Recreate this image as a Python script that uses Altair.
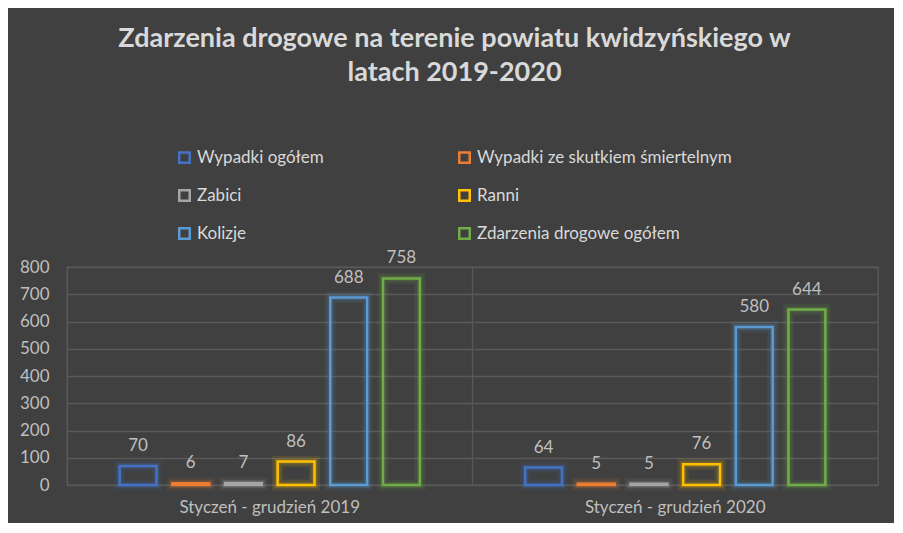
import altair as alt
import pandas as pd

categories = ["Styczeń - grudzień 2019", "Styczeń - grudzień 2020"]
series = ["Wypadki ogółem", "Wypadki ze skutkiem śmiertelnym", "Zabici",
          "Ranni", "Kolizje", "Zdarzenia drogowe ogółem"]
colors = ["#4472C4", "#ED7D31", "#A5A5A5", "#FFC000", "#5B9BD5", "#70AD47"]
values_2019 = [70, 6, 7, 86, 688, 758]
values_2020 = [64, 5, 5, 76, 580, 644]

rows = []
for cat, vals in zip(categories, [values_2019, values_2020]):
    for s, v in zip(series, vals):
        rows.append({"okres": cat, "seria": s, "wartosc": v})
df = pd.DataFrame(rows)

FONT = "Lato"
BG = "#404040"

x = alt.X("okres:N", sort=categories,
          scale=alt.Scale(paddingInner=0, paddingOuter=0),
          axis=alt.Axis(title=None, labelAngle=0, labelFontSize=17, labelColor="#BFBFBF",
                        labelFont=FONT, labelPadding=14, ticks=False, domain=False,
                        labelLimit=400,
                        grid=True, gridColor="#595959", gridWidth=1.3, bandPosition=0,
                        labelBaseline="top", minExtent=30, maxExtent=30))
xo = alt.XOffset("seria:N", sort=series,
                 scale=alt.Scale(paddingInner=0.3, paddingOuter=1))
y = alt.Y("wartosc:Q", scale=alt.Scale(domain=[0, 800], nice=False),
          axis=alt.Axis(title=None, values=list(range(0, 801, 100)), labelFontSize=17,
                        labelColor="#BFBFBF", labelFont=FONT, labelPadding=18,
                        ticks=False, domain=False, gridColor="#595959", gridWidth=1.3,
                        minExtent=50, maxExtent=50))
color = alt.Color("seria:N", sort=series,
                  scale=alt.Scale(domain=series, range=colors),
                  legend=alt.Legend(title=None, orient="none", legendX=109, legendY=-118,
                                    direction="horizontal",
                                    columns=2, columnPadding=130, rowPadding=17,
                                    symbolType="square", symbolSize=110,
                                    symbolFillColor="transparent", symbolStrokeWidth=2.5,
                                    symbolOpacity=1,
                                    labelFontSize=17, labelColor="#D9D9D9", labelFont=FONT,
                                    labelLimit=400, labelOffset=4, padding=0))

base = alt.Chart(df).encode(x=x, xOffset=xo, y=y, color=color)

glow1 = base.mark_bar(filled=False, strokeWidth=11, strokeOpacity=0.10)
glow2 = base.mark_bar(filled=False, strokeWidth=6, strokeOpacity=0.18)
bars = base.mark_bar(filled=False, strokeWidth=2.5)
labels = base.mark_text(baseline="middle", dy=-20, fontSize=17, color="#BFBFBF",
                        font=FONT).encode(text="wartosc:Q", color=alt.value("#BFBFBF"))

chart = alt.layer(glow1, glow2, bars, labels).properties(
    width=811, height=218,
    background=BG,
    padding={"left": 9, "right": 16, "top": 17, "bottom": 8},
    title=alt.TitleParams(
        text=["Zdarzenia drogowe na terenie powiatu kwidzyńskiego w", "latach 2019-2020"],
        fontSize=27, font=FONT, fontWeight="bold", color="#D9D9D9",
        anchor="middle", frame="group", dx=-18, lineHeight=34, offset=62),
).configure_view(stroke="#595959", strokeWidth=1.3).configure_axis(labelFont=FONT)

chart.save("out.html", embed_options={"renderer": "svg", "actions": False})
